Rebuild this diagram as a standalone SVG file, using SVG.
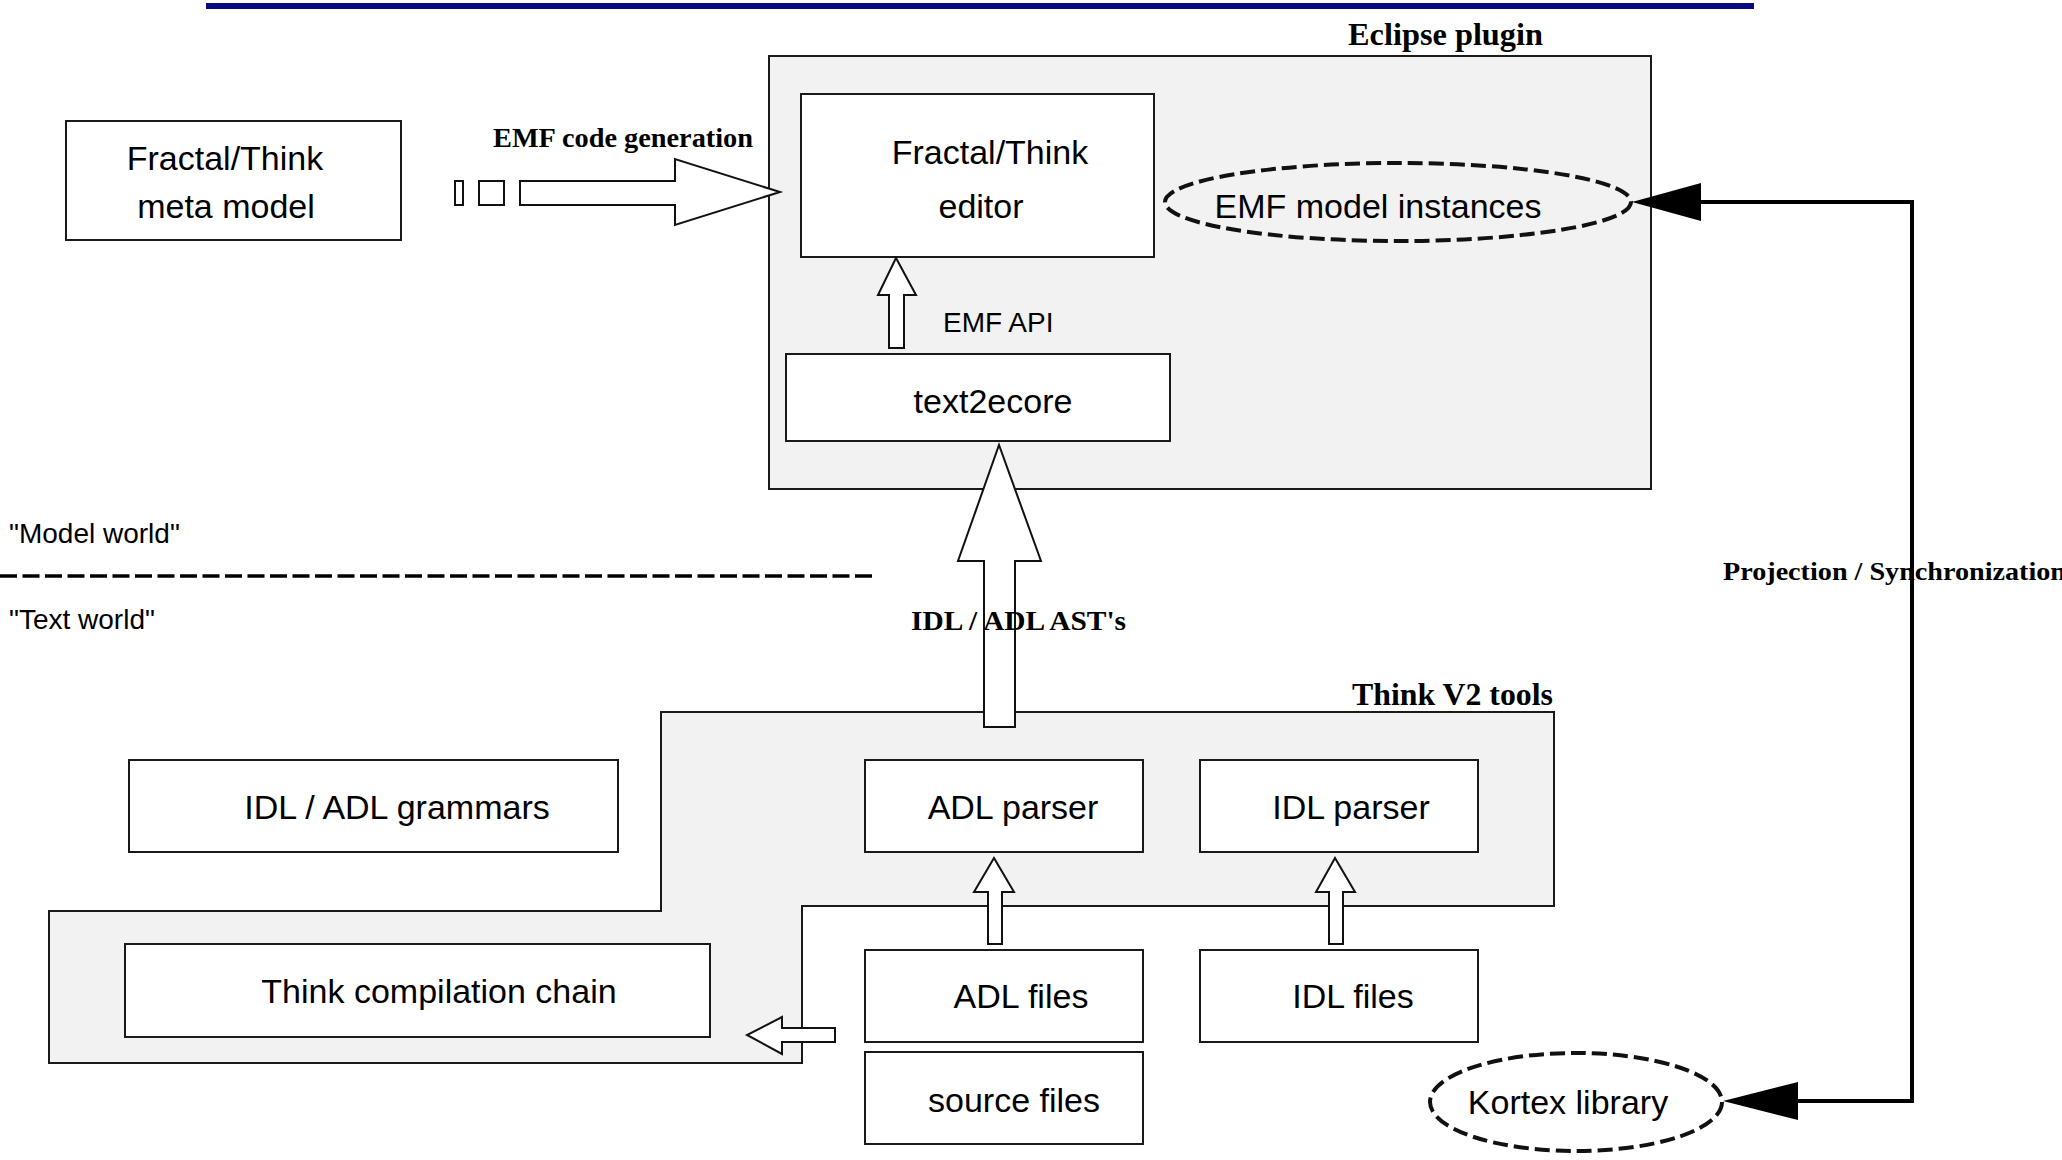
<svg xmlns="http://www.w3.org/2000/svg" width="2062" height="1160" viewBox="0 0 2062 1160">
<style>
.box{fill:#ffffff;stroke:#1a1a1a;stroke-width:2}
.grp{fill:#f2f2f2;stroke:#1a1a1a;stroke-width:2}
.harrow{fill:#ffffff;stroke:#111111;stroke-width:2;stroke-linejoin:miter}
.ell{fill:none;stroke:#111111;stroke-width:4;stroke-dasharray:15 6}
.t{font-family:"Liberation Sans",Arial,sans-serif;font-size:34px;fill:#000000}
.ts{font-family:"Liberation Sans",Arial,sans-serif;font-size:28px;fill:#000000}
.b{font-family:"Liberation Serif","Times New Roman",serif;font-weight:bold;fill:#000000}
.conn{fill:none;stroke:#000000;stroke-width:4}
.m{text-anchor:middle}
</style>
<defs>
<marker id="tri" viewBox="0 0 75 38" refX="0" refY="19" markerWidth="75" markerHeight="38" markerUnits="userSpaceOnUse" orient="auto-start-reverse">
<path d="M0,19 L75,0 L75,38 Z" fill="#000000"/>
</marker>
</defs>

<rect x="206" y="3" width="1548" height="6" fill="#0a0a80"/>

<g id="eclipse-plugin">
<rect class="grp" x="769" y="56" width="882" height="433"/>
<text class="b" x="1348" y="45" font-size="32" textLength="195" lengthAdjust="spacingAndGlyphs">Eclipse plugin</text>
</g>

<g id="think-v2-tools">
<path class="grp" d="M661,712 L1554,712 L1554,906 L802,906 L802,1063 L49,1063 L49,911 L661,911 Z"/>
<text class="b" x="1352" y="705" font-size="32" textLength="201" lengthAdjust="spacingAndGlyphs">Think V2 tools</text>
</g>

<g id="meta-model">
<rect class="box" x="66" y="121" width="335" height="119"/>
<text class="t m" x="225" y="170">Fractal/Think</text>
<text class="t m" x="226" y="218">meta model</text>
</g>

<g id="editor">
<rect class="box" x="801" y="94" width="353" height="163"/>
<text class="t m" x="990" y="164">Fractal/Think</text>
<text class="t m" x="981" y="218">editor</text>
</g>

<g id="emf-model-instances">
<ellipse class="ell" cx="1398" cy="202" rx="233" ry="39"/>
<text class="t m" x="1378" y="218">EMF model instances</text>
</g>

<g id="text2ecore">
<rect class="box" x="786" y="354" width="384" height="87"/>
<text class="t m" x="993" y="413">text2ecore</text>
</g>

<g id="grammars">
<rect class="box" x="129" y="760" width="489" height="92"/>
<text class="t m" x="397" y="819">IDL / ADL grammars</text>
</g>

<g id="adl-parser">
<rect class="box" x="865" y="760" width="278" height="92"/>
<text class="t m" x="1013" y="819">ADL parser</text>
</g>

<g id="idl-parser">
<rect class="box" x="1200" y="760" width="278" height="92"/>
<text class="t m" x="1351" y="819">IDL parser</text>
</g>

<g id="compilation-chain">
<rect class="box" x="125" y="944" width="585" height="93"/>
<text class="t m" x="439" y="1003">Think compilation chain</text>
</g>

<g id="adl-files">
<rect class="box" x="865" y="950" width="278" height="92"/>
<text class="t m" x="1021" y="1008">ADL files</text>
</g>

<g id="idl-files">
<rect class="box" x="1200" y="950" width="278" height="92"/>
<text class="t m" x="1353" y="1008">IDL files</text>
</g>

<g id="source-files">
<rect class="box" x="865" y="1052" width="278" height="92"/>
<text class="t m" x="1014" y="1112">source files</text>
</g>

<g id="kortex-library">
<ellipse class="ell" cx="1576" cy="1102" rx="146" ry="49"/>
<text class="t m" x="1568" y="1114">Kortex library</text>
</g>

<g id="world-labels">
<text class="ts" x="9" y="543">"Model world"</text>
<line x1="0" y1="576" x2="877" y2="576" stroke="#000000" stroke-width="3.5" stroke-dasharray="17 5.5"/>
<text class="ts" x="9" y="629">"Text world"</text>
</g>

<g id="connectors">
<rect class="harrow" x="455" y="181" width="8" height="24"/>
<rect class="harrow" x="479" y="181" width="25" height="24"/>
<polygon class="harrow" points="520,181 675,181 675,159 780,192 675,225 675,205 520,205"/>
<text class="b" x="493" y="147" font-size="27" textLength="260" lengthAdjust="spacingAndGlyphs">EMF code generation</text>

<polygon class="harrow" points="889,348 889,295 878,295 896,258 916,295 904,295 904,348"/>
<text class="ts" x="943" y="332">EMF API</text>

<polygon class="harrow" points="984,727 984,561 958,561 999,445 1041,561 1015,561 1015,727"/>
<text class="b" x="911" y="630" font-size="28" textLength="215" lengthAdjust="spacingAndGlyphs">IDL / ADL AST's</text>

<polygon class="harrow" points="988,944 988,892 974,892 994,858 1014,892 1002,892 1002,944"/>
<polygon class="harrow" points="1329,944 1329,892 1316,892 1335,858 1355,892 1343,892 1343,944"/>

<polygon class="harrow" points="835,1028 782,1028 782,1017 747,1035 782,1054 782,1042 835,1042"/>

<path class="conn" d="M1701,202 L1912,202 L1912,1101 L1798,1101"/>
<path d="M1632,202 L1701,183 L1701,221 Z" fill="#000000"/>
<path d="M1723,1101 L1798,1082 L1798,1120 Z" fill="#000000"/>
<text class="b" x="1723" y="580" font-size="26" textLength="343" lengthAdjust="spacingAndGlyphs">Projection / Synchronization</text>
</g>
</svg>
